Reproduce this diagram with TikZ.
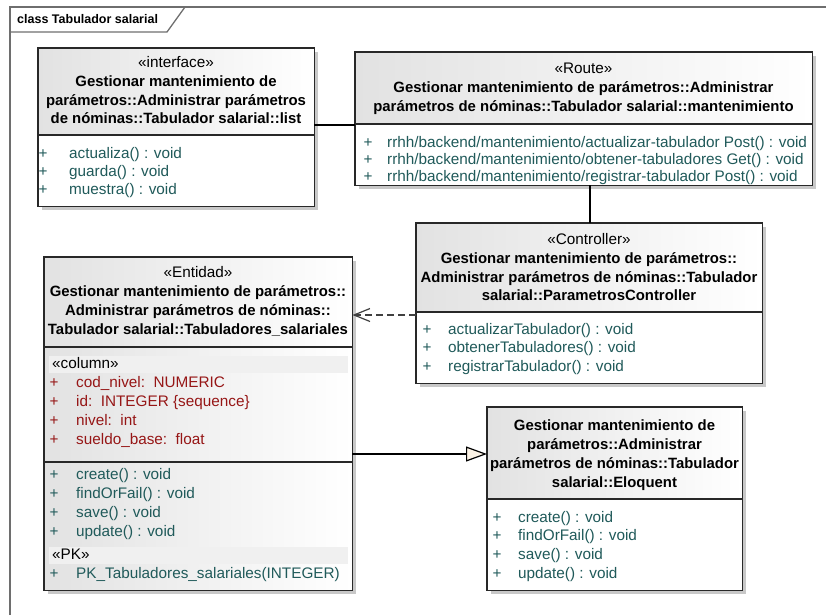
\documentclass[tikz,border=0pt]{standalone}
\usepackage{fontspec}
\setmainfont{Liberation Sans}
\newfontfamily\regf{Liberation Sans}
\newfontfamily\boldf{Liberation Sans}
\usetikzlibrary{arrows.meta,shadows}
\definecolor{mth}{RGB}{32,90,90}
\definecolor{atr}{RGB}{150,22,22}
\definecolor{hdl}{RGB}{226,226,226}
\definecolor{shadc}{RGB}{200,200,200}
\definecolor{boxc}{RGB}{40,40,40}
\definecolor{framec}{RGB}{110,110,110}
\definecolor{bandc}{RGB}{240,240,240}
\definecolor{genfill}{RGB}{252,243,230}
\definecolor{depc}{RGB}{64,64,64}
\tikzset{
  boxbg/.style={draw=none, fill=white, inner sep=0pt, anchor=north west,
    drop shadow={shadow xshift=4pt, shadow yshift=-4pt, fill=shadc, opacity=1}},
  boxline/.style={draw=boxc, line width=1.2pt},
  hdshade/.style={left color=hdl, right color=white},
  tx/.style={inner sep=0pt, text height=11pt, text depth=3.2pt, font=\regf\fontsize{15.3}{18}\selectfont},
  hd/.style={tx, font=\boldf\bfseries\fontsize{14.9}{18}\selectfont},
  mt/.style={tx, anchor=west, text=mth},
  attxt/.style={tx, anchor=west, text=atr},
  pl/.style={tx, text=mth},
  pa/.style={tx, text=atr},
  conn/.style={draw=black, line width=1.2pt},
}
\begin{document}
\begin{tikzpicture}[x=1pt,y=-1pt]
\useasboundingbox (0,0) rectangle (826,615);
% frame
\draw[framec, line width=1.3pt] (10,615) -- (10,7) -- (826,7);
\draw[framec, line width=1.3pt] (10,32) -- (167,32) -- (185,7);
\node[hd, font=\boldf\bfseries\fontsize{12.5}{15}\selectfont, anchor=west] (ftitle) at (17,19.5) {class Tabulador salarial};

% ===== list =====
\node[boxbg, minimum width=276pt, minimum height=158pt] (list) at (38,48) {};
\coordinate (listdiv) at (38,135);
\path[hdshade] (list.north west) rectangle (list.east |- listdiv);
\draw[boxline] (list.north west) rectangle (list.south east);
\draw[boxline] (listdiv) -- (list.east |- listdiv);
\node[tx] (l0) at (176,64) {«interface»};
\node[hd] (l1) at (176,83) {Gestionar mantenimiento de};
\node[hd] (l2) at (176,102) {parámetros::Administrar parámetros};
\node[hd] (l3) at (176,120) {de nóminas::Tabulador salarial::list};
\node[pl] (lp1) at (43,155) {+};
\node[pl] (lp2) at (43,173) {+};
\node[pl] (lp3) at (43,191) {+};
\node[mt] (lm1) at (69,155) {actualiza() : void};
\node[mt] (lm2) at (69,173) {guarda() : void};
\node[mt] (lm3) at (69,191) {muestra() : void};

% ===== route =====
\node[boxbg, minimum width=457pt, minimum height=133pt] (route) at (355,52) {};
\coordinate (routediv) at (355,124);
\path[hdshade] (route.north west) rectangle (route.east |- routediv);
\draw[boxline] (route.north west) rectangle (route.south east);
\draw[boxline] (routediv) -- (route.east |- routediv);
\node[tx] (r0) at (583.5,70) {«Route»};
\node[hd] (r1) at (583.5,89) {Gestionar mantenimiento de parámetros::Administrar};
\node[hd] (r2) at (583.5,108) {parámetros de nóminas::Tabulador salarial::mantenimiento};
\node[pl] (rp1) at (368,144) {+};
\node[pl] (rp2) at (368,161) {+};
\node[pl] (rp3) at (368,178) {+};
\node[mt] (rm1) at (387,144) {rrhh/backend/mantenimiento/actualizar-tabulador Post() : void};
\node[mt] (rm2) at (387,161) {rrhh/backend/mantenimiento/obtener-tabuladores Get() : void};
\node[mt] (rm3) at (387,178) {rrhh/backend/mantenimiento/registrar-tabulador Post() : void};

% ===== controller =====
\node[boxbg, minimum width=346pt, minimum height=160pt] (ctrl) at (416,223) {};
\coordinate (ctrldiv) at (416,312);
\path[hdshade] (ctrl.north west) rectangle (ctrl.east |- ctrldiv);
\draw[boxline] (ctrl.north west) rectangle (ctrl.south east);
\draw[boxline] (ctrldiv) -- (ctrl.east |- ctrldiv);
\node[tx] (c0) at (589,241) {«Controller»};
\node[hd] (c1) at (589,260) {Gestionar mantenimiento de parámetros::};
\node[hd] (c2) at (589,279) {Administrar parámetros de nóminas::Tabulador};
\node[hd] (c3) at (589,297) {salarial::ParametrosController};
\node[pl] (cp1) at (427,331) {+};
\node[pl] (cp2) at (427,349) {+};
\node[pl] (cp3) at (427,368) {+};
\node[mt] (cm1) at (448,331) {actualizarTabulador() : void};
\node[mt] (cm2) at (448,349) {obtenerTabuladores() : void};
\node[mt] (cm3) at (448,368) {registrarTabulador() : void};

% ===== entity =====
\node[boxbg, minimum width=308pt, minimum height=333pt] (ent) at (44,257) {};
\path[hdshade] (ent.north west) rectangle (ent.south east);
\coordinate (entdiv1) at (44,347);
\coordinate (entdiv2) at (44,462);
\fill[bandc] (49,356) rectangle (348,373);
\fill[bandc] (49,547) rectangle (348,564);
\draw[boxline] (ent.north west) rectangle (ent.south east);
\draw[boxline] (entdiv1) -- (ent.east |- entdiv1);
\draw[boxline] (entdiv2) -- (ent.east |- entdiv2);
\node[tx] (e0) at (198,274) {«Entidad»};
\node[hd] (e1) at (198,293) {Gestionar mantenimiento de parámetros::};
\node[hd] (e2) at (198,312) {Administrar parámetros de nóminas::};
\node[hd] (e3) at (198,331) {Tabulador salarial::Tabuladores\_salariales};
\node[tx, anchor=west] (ecol) at (52,364.5) {«column»};
\node[pa] (ea1p) at (54,384) {+};
\node[pa] (ea2p) at (54,403) {+};
\node[pa] (ea3p) at (54,422) {+};
\node[pa] (ea4p) at (54,441) {+};
\node[attxt] (ea1) at (76,384) {cod\_nivel:\ \ NUMERIC};
\node[attxt] (ea2) at (76,403) {id:\ \ INTEGER \{sequence\}};
\node[attxt] (ea3) at (76,422) {nivel:\ \ int};
\node[attxt] (ea4) at (76,441) {sueldo\_base:\ \ float};
\node[pl] (em1p) at (54,476) {+};
\node[pl] (em2p) at (54,495) {+};
\node[pl] (em3p) at (54,514) {+};
\node[pl] (em4p) at (54,533) {+};
\node[mt] (em1) at (76,476) {create() : void};
\node[mt] (em2) at (76,495) {findOrFail() : void};
\node[mt] (em3) at (76,514) {save() : void};
\node[mt] (em4) at (76,533) {update() : void};
\node[tx, anchor=west] (epk) at (52,555.5) {«PK»};
\node[pl] (ek1p) at (54,575) {+};
\node[mt] (ek1) at (76,575) {PK\_Tabuladores\_salariales(INTEGER)};

% ===== eloquent =====
\node[boxbg, minimum width=255pt, minimum height=183pt] (elo) at (487,407) {};
\coordinate (elodiv) at (487,499);
\path[hdshade] (elo.north west) rectangle (elo.east |- elodiv);
\draw[boxline] (elo.north west) rectangle (elo.south east);
\draw[boxline] (elodiv) -- (elo.east |- elodiv);
\node[hd] (o1) at (614.5,427) {Gestionar mantenimiento de};
\node[hd] (o2) at (614.5,446) {parámetros::Administrar};
\node[hd] (o3) at (614.5,465) {parámetros de nóminas::Tabulador};
\node[hd] (o4) at (614.5,484) {salarial::Eloquent};
\node[pl] (op1) at (497,519) {+};
\node[pl] (op2) at (497,537) {+};
\node[pl] (op3) at (497,556) {+};
\node[pl] (op4) at (497,575) {+};
\node[mt] (om1) at (518,519) {create() : void};
\node[mt] (om2) at (518,537) {findOrFail() : void};
\node[mt] (om3) at (518,556) {save() : void};
\node[mt] (om4) at (518,575) {update() : void};

% ===== connectors =====
\coordinate (ylr) at (0,125);
\draw[conn] (list.east |- ylr) -- (route.west |- ylr);
\coordinate (xrc) at (590,0);
\draw[conn] (route.south -| xrc) -- (ctrl.north -| xrc);
\coordinate (ydep) at (0,315);
\draw[depc, line width=1.2pt, dash pattern=on 7pt off 4pt,
  -{Straight Barb[length=16pt, width=13pt, line width=1.2pt]}]
  (ctrl.west |- ydep) -- (ent.east |- ydep);
\coordinate (ygen) at (0,454);
\draw[conn, -{Triangle[length=21pt, width=15pt, fill=genfill, line width=1.2pt]}]
  (ent.east |- ygen) -- (elo.west |- ygen);
\end{tikzpicture}
\end{document}
